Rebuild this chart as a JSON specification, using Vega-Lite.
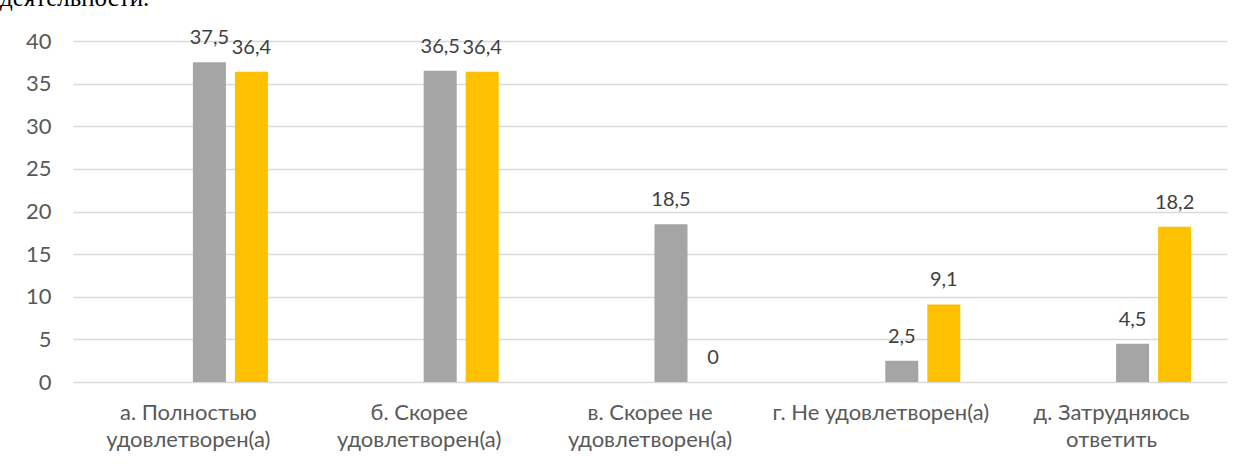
{
  "$schema": "https://vega.github.io/schema/vega-lite/v6.json",
  "width": 1154,
  "height": 341,
  "autosize": {"type": "none"},
  "padding": {"left": 73, "top": 41, "right": 17, "bottom": 84},
  "title": {
    "text": "деятельности.",
    "anchor": "start",
    "frame": "group",
    "orient": "top",
    "font": "Liberation Serif",
    "fontSize": 25,
    "fontWeight": "normal",
    "color": "#000000",
    "baseline": "alphabetic",
    "offset": 0,
    "dx": -73,
    "dy": 3
  },
  "config": {
    "view": {"stroke": null},
    "locale": {
      "number": {"decimal": ",", "thousands": " ", "grouping": [3], "currency": ["", " ₽"]}
    },
    "axis": {"labelFont": "Lato", "labelColor": "#595959", "labelFontSize": 22}
  },
  "data": {
    "values": [
      {"category": "а. Полностью удовлетворен(а)", "series": "Ряд 3", "value": 37.5},
      {"category": "а. Полностью удовлетворен(а)", "series": "Ряд 4", "value": 36.4},
      {"category": "б. Скорее удовлетворен(а)", "series": "Ряд 3", "value": 36.5},
      {"category": "б. Скорее удовлетворен(а)", "series": "Ряд 4", "value": 36.4},
      {"category": "в. Скорее не удовлетворен(а)", "series": "Ряд 3", "value": 18.5},
      {"category": "в. Скорее не удовлетворен(а)", "series": "Ряд 4", "value": 0},
      {"category": "г. Не удовлетворен(а)", "series": "Ряд 3", "value": 2.5},
      {"category": "г. Не удовлетворен(а)", "series": "Ряд 4", "value": 9.1},
      {"category": "д. Затрудняюсь ответить", "series": "Ряд 3", "value": 4.5},
      {"category": "д. Затрудняюсь ответить", "series": "Ряд 4", "value": 18.2}
    ]
  },
  "encoding": {
    "x": {
      "field": "category",
      "type": "nominal",
      "sort": null,
      "scale": {"paddingInner": 0, "paddingOuter": 0},
      "axis": {
        "title": null,
        "labelAngle": 0,
        "domain": false,
        "ticks": false,
        "labelPadding": 20,
        "labelLineHeight": 27,
        "labelBaseline": "top",
        "labelLimit": 300,
        "labelExpr": "datum.value == 'г. Не удовлетворен(а)' ? datum.value : [substring(datum.value, 0, lastindexof(datum.value, ' ')), substring(datum.value, lastindexof(datum.value, ' ') + 1)]"
      }
    },
    "xOffset": {
      "field": "series",
      "type": "nominal",
      "scale": {"domain": ["Ряд 1", "Ряд 2", "Ряд 3", "Ряд 4"], "paddingInner": 0.214, "paddingOuter": 0.855}
    },
    "y": {
      "field": "value",
      "type": "quantitative",
      "scale": {"domain": [0, 40], "nice": false},
      "axis": {
        "title": null,
        "values": [0, 5, 10, 15, 20, 25, 30, 35, 40],
        "domain": false,
        "ticks": false,
        "labelPadding": 22,
        "gridColor": "#d9d9d9",
        "gridWidth": 1.3
      }
    },
    "color": {
      "field": "series",
      "type": "nominal",
      "scale": {"domain": ["Ряд 1", "Ряд 2", "Ряд 3", "Ряд 4"], "range": ["#4472C4", "#ED7D31", "#A5A5A5", "#FFC000"]},
      "legend": null
    }
  },
  "layer": [
    {"mark": {"type": "bar"}},
    {
      "mark": {"type": "text", "baseline": "alphabetic", "dy": -18, "font": "Lato", "fontSize": 20, "color": "#404040"},
      "encoding": {
        "text": {"field": "value", "type": "quantitative", "format": "~r"},
        "color": {"value": "#404040"}
      }
    }
  ]
}
